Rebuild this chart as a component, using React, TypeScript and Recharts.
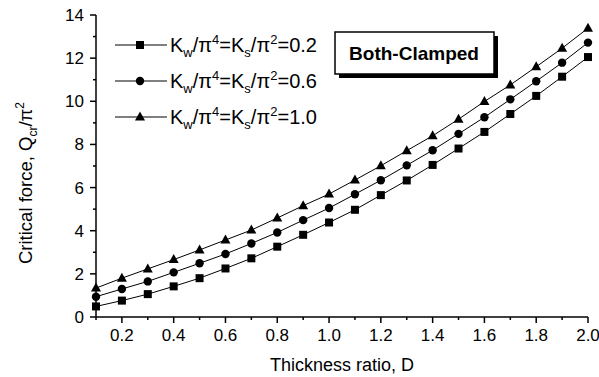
import React from "react"
import { LineChart, Line, XAxis, YAxis, ResponsiveContainer } from "recharts"

const thickness = [0.1, 0.2, 0.3, 0.4, 0.5, 0.6, 0.7, 0.8, 0.9, 1.0, 1.1, 1.2, 1.3, 1.4, 1.5, 1.6, 1.7, 1.8, 1.9, 2.0]
const k02 = [0.49, 0.76, 1.06, 1.42, 1.8, 2.25, 2.72, 3.26, 3.81, 4.38, 4.97, 5.65, 6.33, 7.05, 7.81, 8.58, 9.41, 10.25, 11.14, 12.05]
const k06 = [0.94, 1.3, 1.65, 2.07, 2.49, 2.92, 3.41, 3.92, 4.49, 5.05, 5.69, 6.34, 7.03, 7.73, 8.49, 9.26, 10.09, 10.93, 11.79, 12.72]
const k10 = [1.34, 1.8, 2.23, 2.66, 3.11, 3.57, 4.03, 4.59, 5.16, 5.7, 6.35, 7.01, 7.71, 8.4, 9.17, 9.99, 10.76, 11.6, 12.46, 13.39]

const xTicks = [0.1, 0.2, 0.3, 0.4, 0.5, 0.6, 0.7, 0.8, 0.9, 1.0, 1.1, 1.2, 1.3, 1.4, 1.5, 1.6, 1.7, 1.8, 1.9, 2.0]
const yTicks = [0, 1, 2, 3, 4, 5, 6, 7, 8, 9, 10, 11, 12, 13, 14]
const seriesValues = ["0.2", "0.6", "1.0"]

const data = thickness.map((d, i) => ({ d, a: k02[i], b: k06[i], c: k10[i] }))

const FONT = "'Liberation Sans', Arial, sans-serif"

function Square({ cx, cy }: any) {
  return <rect x={cx - 4} y={cy - 4} width={8} height={8} fill="#000" />
}
function Dot({ cx, cy }: any) {
  return <circle cx={cx} cy={cy} r={4.2} fill="#000" />
}
function Tri({ cx, cy }: any) {
  return <polygon points={`${cx},${cy - 5.5} ${cx + 5},${cy + 3.5} ${cx - 5},${cy + 3.5}`} fill="#000" />
}

function XTick({ x, y, payload }: any) {
  const v = payload.value
  const major = Math.round(v * 10) % 2 === 0
  return (
    <g>
      <line x1={x} x2={x} y1={y} y2={y + (major ? 6 : 3)} stroke="#000" strokeWidth={1.5} />
      {major && (
        <text x={x} y={y + 24} textAnchor="middle" fontSize={17} fontFamily={FONT} fill="#000">
          {v.toFixed(1)}
        </text>
      )}
    </g>
  )
}

function YTick({ x, y, payload }: any) {
  const v = payload.value
  const major = v % 2 === 0
  return (
    <g>
      <line x1={x} x2={x - (major ? 6 : 3)} y1={y} y2={y} stroke="#000" strokeWidth={1.5} />
      {major && (
        <text x={x - 12} y={y + 6} textAnchor="end" fontSize={17} fontFamily={FONT} fill="#000">
          {v}
        </text>
      )}
    </g>
  )
}

function LegendRow({ y, value, marker }: { y: number; value: string; marker: number }) {
  const cx = 140
  return (
    <g>
      <line x1={115} x2={167} y1={y} y2={y} stroke="#000" strokeWidth={1} />
      {marker === 0 && <Square cx={cx} cy={y} />}
      {marker === 1 && <Dot cx={cx} cy={y} />}
      {marker === 2 && <Tri cx={cx} cy={y} />}
      <text x={170} y={y + 7} fontSize={20} fontFamily={FONT} fill="#000">
        K<tspan fontSize={13} dy={5}>w</tspan>
        <tspan dy={-5}>/π</tspan>
        <tspan fontSize={13} dy={-8}>4</tspan>
        <tspan dy={8}>=K</tspan>
        <tspan fontSize={13} dy={5}>s</tspan>
        <tspan dy={-5}>/π</tspan>
        <tspan fontSize={13} dy={-8}>2</tspan>
        <tspan dy={8}>={value}</tspan>
      </text>
    </g>
  )
}

export default function App() {
  return (
    <div style={{ position: "absolute", left: 0, top: 0, width: 599, height: 377, background: "#fff" }}>
      <ResponsiveContainer width={599} height={377}>
        <LineChart data={data} margin={{ top: 15, right: 11, bottom: 20, left: 36 }}>
          <XAxis
            dataKey="d"
            type="number"
            domain={[0.1, 2.0]}
            ticks={xTicks}
            interval={0}
            tick={<XTick />}
            tickLine={false}
            tickSize={0}
            tickMargin={0}
            height={40}
            axisLine={{ stroke: "#000", strokeWidth: 1.5 }}
          />
          <YAxis
            type="number"
            domain={[0, 14]}
            ticks={yTicks}
            interval={0}
            tick={<YTick />}
            tickLine={false}
            tickSize={0}
            tickMargin={0}
            width={60}
            axisLine={{ stroke: "#000", strokeWidth: 1.5 }}
          />
          <XAxis xAxisId="top" orientation="top" type="number" domain={[0.1, 2.0]} tick={false} height={0} axisLine={{ stroke: "#000", strokeWidth: 1.5 }} />
          <YAxis yAxisId="right" orientation="right" type="number" domain={[0, 14]} tick={false} width={0} axisLine={{ stroke: "#000", strokeWidth: 1.5 }} />
          <Line dataKey="a" stroke="#000" strokeWidth={1} dot={<Square />} isAnimationActive={false} />
          <Line dataKey="b" stroke="#000" strokeWidth={1} dot={<Dot />} isAnimationActive={false} />
          <Line dataKey="c" stroke="#000" strokeWidth={1} dot={<Tri />} isAnimationActive={false} />
        </LineChart>
      </ResponsiveContainer>
      <svg width={599} height={377} style={{ position: "absolute", left: 0, top: 0, pointerEvents: "none" }}>
        {seriesValues.map((v, i) => (
          <LegendRow key={v} y={45 + i * 36} value={v} marker={i} />
        ))}
        <rect x={339} y={36} width={159} height={42} fill="#000" />
        <rect x={335} y={32} width={159} height={42} fill="#fff" stroke="#000" strokeWidth={1.5} />
        <text x={414} y={60} textAnchor="middle" fontSize={19} fontWeight="bold" fontFamily={FONT} fill="#000">
          Both-Clamped
        </text>
        <text x={342} y={371} textAnchor="middle" fontSize={18} fontFamily={FONT} fill="#000">
          Thickness ratio, D
        </text>
        <text transform="translate(32,183) rotate(-90)" textAnchor="middle" fontSize={18.5} fontFamily={FONT} fill="#000">
          Critical force, Q<tspan fontSize={12} dy={5}>cr</tspan>
          <tspan dy={-5}>/π</tspan>
          <tspan fontSize={12} dy={-8}>2</tspan>
        </text>
      </svg>
    </div>
  )
}
